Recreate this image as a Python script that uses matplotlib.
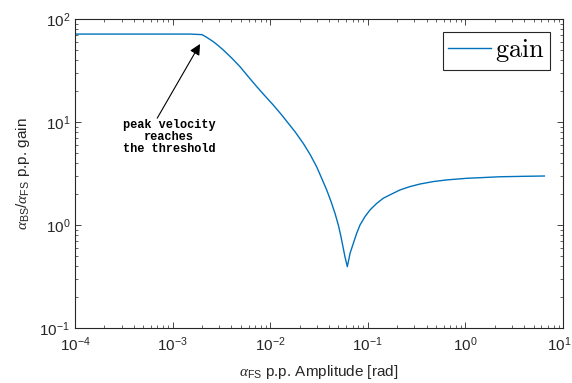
import matplotlib
matplotlib.use("Agg")
import matplotlib.pyplot as plt
from matplotlib.font_manager import FontProperties
from matplotlib.transforms import ScaledTranslation

plt.rcParams['font.family'] = ['Liberation Sans', 'DejaVu Sans']
plt.rcParams['mathtext.fontset'] = 'custom'
plt.rcParams['mathtext.rm'] = 'Liberation Sans'
plt.rcParams['mathtext.it'] = 'Liberation Serif:italic'

# curve (amplitude [rad], gain)
amp = [1e-4, 1.507e-3, 2.0e-3, 2.234e-3, 2.61e-3, 2.94e-3, 3.31e-3, 4.03e-3,
       4.91e-3, 5.97e-3, 7.26e-3, 8.85e-3, 1.076e-2, 1.312e-2, 1.535e-2,
       1.795e-2, 2.18e-2, 2.56e-2, 2.99e-2, 3.37e-2, 3.79e-2, 4.20e-2,
       4.61e-2, 4.99e-2, 5.31e-2, 5.61e-2, 5.83e-2, 6.17e-2,
       6.58e-2, 7.11e-2, 7.69e-2, 8.32e-2, 9.35e-2, 0.1054, 0.1233, 0.1442,
       0.1758, 0.2138, 0.2704, 0.3428, 0.469, 0.643, 1.03, 2.26, 4.0, 6.44]
gain = [71.4, 71.4, 70.5, 66.4, 60.3, 55.1, 50.0, 41.8,
        34.4, 27.5, 22.1, 17.9, 14.6, 11.7, 9.70,
        8.05, 6.21, 4.85, 3.68, 2.84, 2.19, 1.69,
        1.30, 1.0, 0.771, 0.593, 0.493, 0.394,
        0.531, 0.664, 0.830, 1.0, 1.205, 1.40, 1.62, 1.82,
        2.00, 2.19, 2.36, 2.50, 2.64, 2.74, 2.84, 2.94, 2.97, 2.99]

arrow_tip = (1.91e-3, 57.2)
arrow_tail = (6.96e-4, 10.9)
note_pos = (9.18e-4, 7.14)
note_text = "peak velocity\nreaches\nthe threshold"

fig = plt.figure(figsize=(5.72, 3.83), dpi=100)
ax = fig.add_axes([75/572, 1 - 328/383, 488/572, 309/383])

ax.loglog(amp, gain, color='#0072BD', lw=1.0, label=r'$\mathrm{gain}$')
ax.set_xlim(1e-4, 10)
ax.set_ylim(0.1, 100)

ax.annotate('', xy=arrow_tip, xytext=arrow_tail,
            arrowprops=dict(arrowstyle='-|>', color='k', lw=0.8,
                            mutation_scale=16, shrinkA=0, shrinkB=0))
ax.text(note_pos[0], note_pos[1], note_text, ha='center', va='center',
        multialignment='center', family='Liberation Mono', weight='bold',
        fontsize=8.6, linespacing=1.0)

for s in ax.spines.values():
    s.set_color('#262626')
    s.set_linewidth(0.8)
ax.tick_params(which='both', direction='in', top=True, right=True,
               colors='#262626', labelsize=11, labelcolor='#262626')
ax.tick_params(which='major', length=4.5, width=0.6)
ax.tick_params(which='minor', length=2.5, width=0.5)
ax.tick_params(axis='x', pad=5)

ax.set_xlabel(r'$\alpha_{\mathrm{FS}}$ p.p. Amplitude [rad]', fontsize=11,
              color='#262626', labelpad=7)
ax.set_ylabel(r'$\alpha_{\mathrm{BS}}/\alpha_{\mathrm{FS}}$ p.p. gain',
              fontsize=11, color='#262626', labelpad=5)

leg = ax.legend(loc='upper right', prop=FontProperties(math_fontfamily='cm', size=19),
                fancybox=False, framealpha=1, edgecolor='#262626',
                handlelength=1.6, handletextpad=0.15, borderpad=0.2,
                borderaxespad=0.5)
leg.get_frame().set_linewidth(0.8)

# keep the last x tick label inside the figure
fig.canvas.draw()
last = [t for t in ax.get_xticklabels() if t.get_position()[0] >= 9.9]
for t in last:
    t.set_transform(t.get_transform() + ScaledTranslation(-4/100, 0, fig.dpi_scale_trans))

fig.savefig('out.png', dpi=100)
